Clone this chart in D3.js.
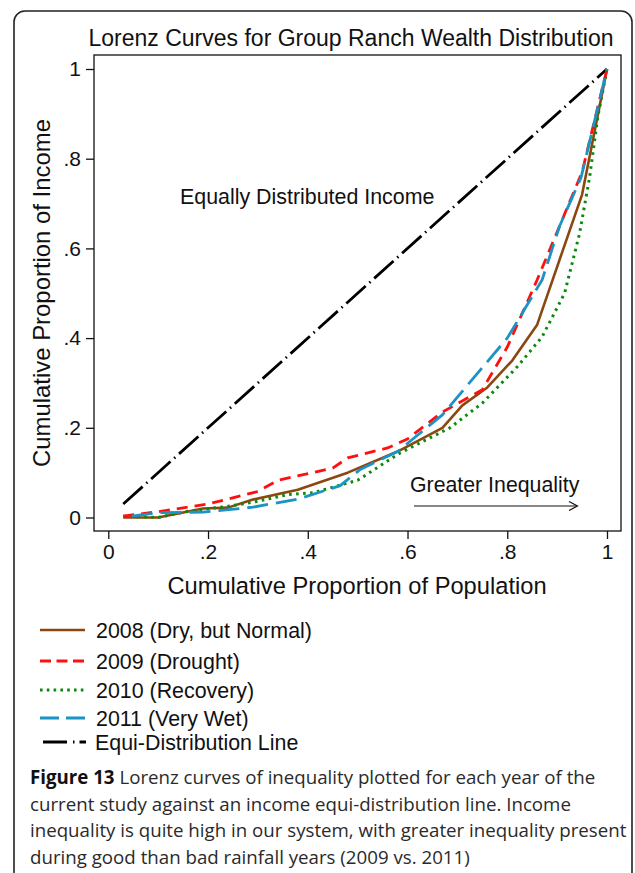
<!DOCTYPE html>
<html>
<head>
<meta charset="utf-8">
<script src="https://cdn.jsdelivr.net/npm/d3@7"></script>
<style>
  html, body { margin: 0; padding: 0; background: #fff; }
  svg { display: block; }
</style>
</head>
<body>
<svg id="chart" width="635" height="873"></svg>
<script>
// Lorenz curve vertices: [cumulative share of population, cumulative share of income]
const curve2008 = [[0.03,0],[0.1,0],[0.19,0.02],[0.24,0.022],[0.29,0.04],[0.38,0.062],[0.48,0.1],[0.58,0.147],[0.67,0.2],[0.71,0.25],[0.76,0.29],[0.81,0.35],[0.86,0.43],[0.95,0.72],[1,1]];
const curve2009 = [[0.03,0.003],[0.1,0.013],[0.2,0.03],[0.3,0.058],[0.34,0.083],[0.45,0.11],[0.48,0.133],[0.56,0.155],[0.6,0.175],[0.67,0.235],[0.75,0.285],[0.8,0.38],[0.86,0.53],[0.95,0.77],[1,1]];
const curve2010 = [[0.03,0.003],[0.1,0],[0.16,0.014],[0.24,0.025],[0.29,0.034],[0.36,0.051],[0.41,0.055],[0.5,0.083],[0.585,0.144],[0.685,0.2],[0.75,0.255],[0.82,0.336],[0.87,0.403],[0.915,0.5],[0.945,0.633],[0.965,0.758],[0.982,0.896],[1,1]];
const curve2011 = [[0.047,0.003],[0.1,0.011],[0.19,0.012],[0.29,0.023],[0.38,0.041],[0.465,0.071],[0.505,0.107],[0.58,0.147],[0.67,0.229],[0.8,0.4],[0.87,0.53],[0.905,0.65],[0.948,0.758],[1,1]];
const equiLine = [[0.03,0.03],[1,1]];

const seriesNames = ["2008 (Dry, but Normal)", "2009 (Drought)", "2010 (Recovery)", "2011 (Very Wet)", "Equi-Distribution Line"];
const xTickValues = [0, 0.2, 0.4, 0.6, 0.8, 1];
const yTickValues = [0, 0.2, 0.4, 0.6, 0.8, 1];
const tickLabels = ["0", ".2", ".4", ".6", ".8", "1"];

const captionLines = [
  [{b: true, t: "Figure 13"}, {b: false, t: " Lorenz curves of inequality plotted for each year of the"}],
  [{b: false, t: "current study against an income equi-distribution line. Income"}],
  [{b: false, t: "inequality is quite high in our system, with greater inequality present"}],
  [{b: false, t: "during good than bad rainfall years (2009 vs. 2011)"}]
];

const styles = [
  {color: "#8a4810", dash: null, width: 2.6},
  {color: "#ff1010", dash: "11,7", width: 2.8},
  {color: "#0a8a0a", dash: "2.6,4.4", width: 3},
  {color: "#1b93c4", dash: "21,8", width: 2.8},
  {color: "#000000", dash: "26,5,1.5,5", width: 2.8}
];
const curves = [curve2008, curve2009, curve2010, curve2011, equiLine];

const svg = d3.select("#chart");
const font = "'Liberation Sans', Arial, Helvetica, sans-serif";

// Outer panel frame with rounded corners
svg.append("rect")
  .attr("x", 14).attr("y", 11).attr("width", 618).attr("height", 900)
  .attr("rx", 11).attr("fill", "none").attr("stroke", "#222").attr("stroke-width", 1.6);

const plot = {left: 94, right: 621, top: 55, bottom: 531};
const x = d3.scaleLinear().domain([0, 1]).range([108.3, 607]);
const y = d3.scaleLinear().domain([0, 1]).range([517.5, 69]);

// Title
svg.append("text")
  .attr("x", 351).attr("y", 46)
  .attr("text-anchor", "middle")
  .attr("font-family", font).attr("font-size", 23)
  .attr("fill", "#111")
  .text("Lorenz Curves for Group Ranch Wealth Distribution");

// Plot frame
svg.append("rect")
  .attr("x", plot.left).attr("y", plot.top)
  .attr("width", plot.right - plot.left).attr("height", plot.bottom - plot.top)
  .attr("fill", "none").attr("stroke", "#111").attr("stroke-width", 1.3);

// Axes
const xAxis = d3.axisBottom(x).tickValues(xTickValues)
  .tickFormat((d, i) => tickLabels[i]).tickSize(8).tickPadding(5);
const gx = svg.append("g").attr("transform", `translate(0,${plot.bottom})`).call(xAxis);
gx.select(".domain").remove();
gx.selectAll("line").attr("stroke", "#111").attr("stroke-width", 1.3);
gx.selectAll("text").attr("font-family", font).attr("font-size", 21).attr("fill", "#111");

const yAxis = d3.axisLeft(y).tickValues(yTickValues)
  .tickFormat((d, i) => tickLabels[i]).tickSize(8).tickPadding(5);
const gy = svg.append("g").attr("transform", `translate(${plot.left},0)`).call(yAxis);
gy.select(".domain").remove();
gy.selectAll("line").attr("stroke", "#111").attr("stroke-width", 1.3);
gy.selectAll("text").attr("font-family", font).attr("font-size", 21).attr("fill", "#111");

// Axis titles
svg.append("text")
  .attr("x", 357).attr("y", 594)
  .attr("text-anchor", "middle")
  .attr("font-family", font).attr("font-size", 23.7).attr("fill", "#111")
  .text("Cumulative Proportion of Population");
svg.append("text")
  .attr("transform", "translate(50,293) rotate(-90)")
  .attr("text-anchor", "middle")
  .attr("font-family", font).attr("font-size", 23.9).attr("fill", "#111")
  .text("Cumulative Proportion of Income");

// Curves
const line = d3.line().x(d => x(d[0])).y(d => y(d[1]));
const drawOrder = [4, 0, 2, 1, 3];
drawOrder.forEach(i => {
  svg.append("path")
    .datum(curves[i])
    .attr("d", line)
    .attr("fill", "none")
    .attr("stroke", styles[i].color)
    .attr("stroke-width", styles[i].width)
    .attr("stroke-linejoin", "round")
    .attr("stroke-dasharray", styles[i].dash);
});

// Annotations
svg.append("text")
  .attr("x", 180).attr("y", 204)
  .attr("font-family", font).attr("font-size", 21.4).attr("fill", "#111")
  .text("Equally Distributed Income");
svg.append("text")
  .attr("x", 410).attr("y", 492)
  .attr("font-family", font).attr("font-size", 21.3).attr("fill", "#111")
  .text("Greater Inequality");
svg.append("line")
  .attr("x1", 414).attr("y1", 506).attr("x2", 577).attr("y2", 506)
  .attr("stroke", "#111").attr("stroke-width", 1.2);
svg.append("path")
  .attr("d", "M569,501.5 L577.5,506 L569,510.5")
  .attr("fill", "none").attr("stroke", "#111").attr("stroke-width", 1.2);

// Legend
const legendY = [630, 661, 690, 718, 742];
seriesNames.forEach((name, i) => {
  const ly = legendY[i];
  if (i < 4) {
    svg.append("line")
      .attr("x1", 40).attr("x2", 85).attr("y1", ly).attr("y2", ly)
      .attr("stroke", styles[i].color).attr("stroke-width", styles[i].width)
      .attr("stroke-dasharray", i === 1 ? "11,5.5" : i === 2 ? "2.6,4.2" : i === 3 ? "19,7" : null);
  } else {
    svg.append("line")
      .attr("x1", 43).attr("x2", 86).attr("y1", ly).attr("y2", ly)
      .attr("stroke", styles[i].color).attr("stroke-width", styles[i].width)
      .attr("stroke-dasharray", "24,6,1.5,5");
  }
  svg.append("text")
    .attr("x", i < 4 ? 96 : 95).attr("y", ly + 7.5)
    .attr("font-family", font).attr("font-size", 21.4).attr("fill", "#111")
    .text(name);
});

// Caption
const capFont = "'Open Sans', 'Noto Sans', sans-serif";
const capY = [784, 811, 837, 864];
captionLines.forEach((parts, i) => {
  const t = svg.append("text")
    .attr("x", 30).attr("y", capY[i])
    .attr("font-family", capFont).attr("font-size", 18.7).attr("fill", "#2a2a2a");
  parts.forEach(p => {
    t.append("tspan")
      .attr("font-weight", p.b ? "bold" : "normal")
      .attr("fill", p.b ? "#111" : "#2a2a2a")
      .text(p.t);
  });
});
</script>
</body>
</html>
